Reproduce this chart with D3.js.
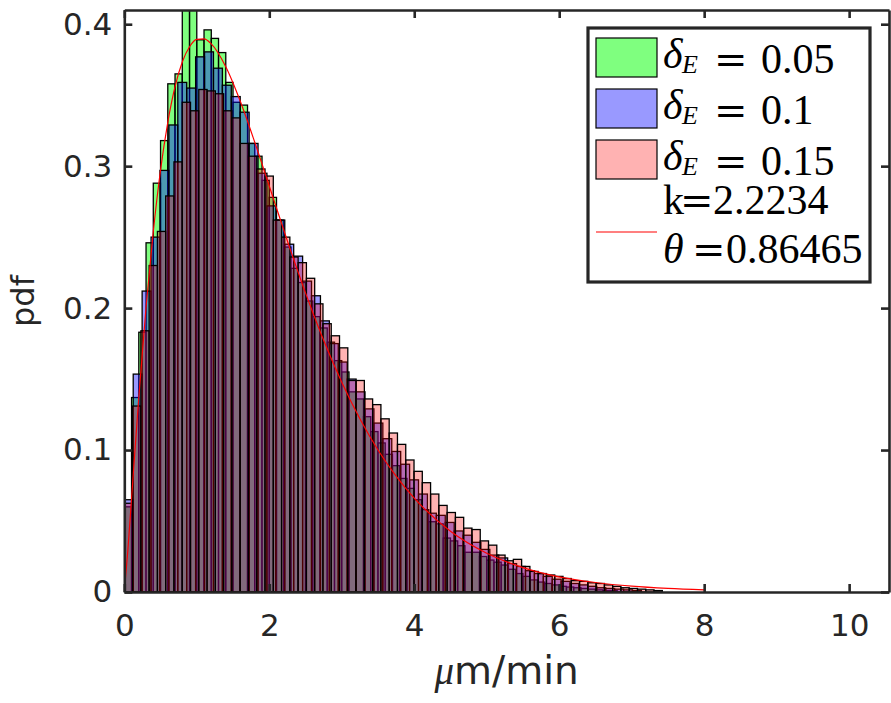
<!DOCTYPE html>
<html>
<head>
<meta charset="utf-8">
<script src="https://cdn.jsdelivr.net/npm/d3@7"></script>
<style>
  body { margin: 0; background: #fff; }
  svg { display: block; }
</style>
</head>
<body>
<div id="chart"></div>
<script>

// --------------------------------------------------------
// Histogram data: pdf value per bin, every series starts its bins at 0
var green_bin_width = 0.1;
var green_pdf = [
    0.060, 0.137, 0.183, 0.246, 0.288, 0.318, 0.358, 0.365, 0.440, 0.420,
    0.389, 0.396, 0.390, 0.380, 0.359, 0.345, 0.343, 0.316, 0.307, 0.290,
    0.278, 0.262, 0.243, 0.228, 0.218, 0.205, 0.194, 0.186, 0.176, 0.163,
    0.155, 0.141, 0.136, 0.1235, 0.113, 0.105, 0.097, 0.089, 0.080, 0.073,
    0.065, 0.058, 0.0495, 0.048, 0.038, 0.036, 0.0326, 0.028, 0.028, 0.025,
    0.0225, 0.021, 0.019, 0.016, 0.013, 0.011, 0.0085, 0.007, 0.006, 0.005,
    0.004, 0.0035, 0.003, 0.0025, 0.002, 0.0015, 0.001, 0.001
];

var blue_bin_width = 0.123;
var blue_pdf = [
    0.065, 0.1535, 0.212, 0.250, 0.297, 0.329, 0.359, 0.355, 0.377, 0.3805,
    0.369, 0.357, 0.349, 0.338, 0.316, 0.295, 0.272, 0.262, 0.245, 0.2366,
    0.219, 0.2087, 0.191, 0.175, 0.162, 0.150, 0.141, 0.129, 0.119, 0.108,
    0.099, 0.090, 0.079, 0.069, 0.0555, 0.054, 0.049, 0.043, 0.040, 0.035,
    0.030, 0.026, 0.024, 0.020, 0.018, 0.015, 0.013, 0.011, 0.009, 0.0075,
    0.006, 0.005, 0.004, 0.003, 0.0025, 0.002, 0.0015, 0.001
];

var red_bin_width = 0.1142;
var red_pdf = [
    0.0625, 0.131, 0.184, 0.230, 0.254, 0.279, 0.303, 0.345, 0.339, 0.354,
    0.353, 0.351, 0.339, 0.334, 0.316, 0.307, 0.298, 0.293, 0.262, 0.250,
    0.236, 0.232, 0.221, 0.203, 0.189, 0.1805, 0.172, 0.149, 0.149, 0.136,
    0.132, 0.122, 0.112, 0.104, 0.093, 0.085, 0.077, 0.069, 0.061, 0.056,
    0.0526, 0.045, 0.044, 0.036, 0.033, 0.026, 0.022, 0.023, 0.018, 0.0145,
    0.013, 0.012, 0.011, 0.0095, 0.008, 0.0075, 0.0065, 0.006, 0.005, 0.004,
    0.003, 0.0025, 0.002, 0.0015, 0.001
];

// fitted gamma curve (red line)
var fit_x   = [0, 0.05, 0.1, 0.2, 0.3, 0.4, 0.5, 0.6, 0.7, 0.8, 0.9, 1.0, 1.1, 1.2,
               1.4, 1.6, 1.8, 2.0, 2.25, 2.5, 2.75, 3.0, 3.25, 3.5, 3.75, 4.0,
               4.5, 5.0, 5.5, 6.0, 6.5, 7.0, 7.5, 8.0];
var fit_pdf = [0, 0.0299, 0.0659, 0.1371, 0.2006, 0.2540, 0.2973, 0.3309, 0.3560,
               0.3734, 0.3841, 0.3893, 0.3896, 0.3861, 0.3700, 0.3457, 0.3168,
               0.2860, 0.2473, 0.2107, 0.1773, 0.1477, 0.1220, 0.1000, 0.0816,
               0.0661, 0.0428, 0.0273, 0.0172, 0.0107, 0.0067, 0.0041, 0.0025, 0.0015];

// axis ticks and legend text
var x_ticks = [0, 2, 4, 6, 8, 10];
var y_ticks = [0, 0.1, 0.2, 0.3, 0.4];
var legend_deltas = ['0.05', '0.1', '0.15'];
var fit_k = '2.2234';
var fit_theta = '0.86465';

// --------------------------------------------------------
// Chart size parameters
var chart_width  = 891;
var chart_height = 703;
var plot_left    = 124.3;
var plot_right   = 889;
var plot_top     = 10;
var plot_bottom  = 592;
var axis_color   = '#262626';
var legend_font  = 'Liberation Serif';
var legend_size  = 42;

var svg = d3.select('#chart')
    .append('svg')
    .attr('width', chart_width)
    .attr('height', chart_height);

// Scales
var x_scale = d3.scaleLinear()
    .domain([0, 10.55])
    .range([plot_left, plot_right]);

var y_scale = d3.scaleLinear()
    .domain([0, 0.41])
    .range([plot_bottom, plot_top]);

// clip bars to the axes box (green spike goes over the top)
svg.append('clipPath')
    .attr('id', 'plot-clip')
    .append('rect')
    .attr('x', plot_left)
    .attr('y', plot_top)
    .attr('width', plot_right - plot_left)
    .attr('height', plot_bottom - plot_top);

// --------------------------------------------------------
// Histograms, drawn green -> blue -> red like the original
var series = [
    { values: green_pdf, width: green_bin_width, color: '#00ff00', alpha: 0.5 },
    { values: blue_pdf,  width: blue_bin_width,  color: '#0000ff', alpha: 0.4 },
    { values: red_pdf,   width: red_bin_width,   color: '#ff0000', alpha: 0.3 }
];

var plot = svg.append('g')
    .attr('clip-path', 'url(#plot-clip)');

series.forEach(function(s) {
    plot.append('g')
        .selectAll('rect')
        .data(s.values)
        .enter()
        .append('rect')
        .attr('x', function(d, i) { return x_scale(i * s.width); })
        .attr('width', function(d, i) { return x_scale((i + 1) * s.width) - x_scale(i * s.width); })
        .attr('y', function(d) { return y_scale(d); })
        .attr('height', function(d) { return y_scale(0) - y_scale(d); })
        .attr('fill', s.color)
        .attr('fill-opacity', s.alpha)
        .attr('stroke', '#000')
        .attr('stroke-width', 1.3);
});

// fitted curve
var fit_line = d3.line()
    .x(function(d, i) { return x_scale(fit_x[i]); })
    .y(function(d) { return y_scale(d); })
    .curve(d3.curveMonotoneX);

plot.append('path')
    .attr('d', fit_line(fit_pdf))
    .attr('fill', 'none')
    .attr('stroke', '#ff0000')
    .attr('stroke-width', 1.2);

// --------------------------------------------------------
// Axes (ticks inside, box all round)
function style_axis(g) {
    g.selectAll('path, line')
        .attr('stroke', axis_color)
        .attr('stroke-width', 2.6);
    g.selectAll('text')
        .attr('fill', axis_color)
        .attr('font-family', 'DejaVu Sans')
        .attr('font-size', 31);
}

svg.append('g')
    .attr('transform', 'translate(0,' + plot_bottom + ')')
    .call(d3.axisBottom(x_scale).tickValues(x_ticks).tickSize(-8).tickSizeOuter(0).tickPadding(22))
    .call(style_axis);

svg.append('g')
    .attr('transform', 'translate(0,' + plot_top + ')')
    .call(d3.axisTop(x_scale).tickValues(x_ticks).tickSize(-8).tickSizeOuter(0).tickFormat(''))
    .call(style_axis);

svg.append('g')
    .attr('transform', 'translate(' + plot_left + ',0)')
    .call(d3.axisLeft(y_scale).tickValues(y_ticks).tickSize(-8).tickSizeOuter(0)
        .tickPadding(12).tickFormat(String))
    .call(style_axis);

svg.append('g')
    .attr('transform', 'translate(' + plot_right + ',0)')
    .call(d3.axisRight(y_scale).tickValues(y_ticks).tickSize(-8).tickSizeOuter(0).tickFormat(''))
    .call(style_axis);

// axis labels
svg.append('text')
    .attr('transform', 'translate(34,' + ((plot_top + plot_bottom) / 2) + ') rotate(-90)')
    .attr('text-anchor', 'middle')
    .attr('font-family', 'DejaVu Sans')
    .attr('font-size', 32)
    .attr('fill', axis_color)
    .text('pdf');

var x_label = svg.append('text')
    .attr('x', (plot_left + plot_right) / 2)
    .attr('y', 684)
    .attr('text-anchor', 'middle')
    .attr('font-family', 'DejaVu Sans')
    .attr('font-size', 39)
    .attr('fill', axis_color);
x_label.append('tspan')
    .attr('font-family', 'Liberation Serif')
    .attr('font-style', 'italic')
    .text('\u03bc');
x_label.append('tspan').text('m/min');

// --------------------------------------------------------
// Legend
var legend = svg.append('g');

legend.append('rect')
    .attr('x', 588)
    .attr('y', 28)
    .attr('width', 282)
    .attr('height', 254)
    .attr('fill', '#fff')
    .attr('stroke', axis_color)
    .attr('stroke-width', 3.2);

function legend_text(y) {
    return legend.append('text')
        .attr('y', y)
        .attr('font-family', legend_font)
        .attr('font-size', legend_size)
        .attr('fill', '#000');
}

// wider "=" as in the TeX legend
function add_equals(t, x) {
    t.append('tspan')
        .attr('x', x)
        .attr('font-family', 'DejaVu Serif')
        .attr('font-size', 40)
        .text('=');
}

var row_base = [68, 119, 170];
series.forEach(function(s, i) {
    legend.append('rect')
        .attr('x', 596)
        .attr('y', row_base[i] - 30)
        .attr('width', 61)
        .attr('height', 39)
        .attr('fill', s.color)
        .attr('fill-opacity', s.alpha)
        .attr('stroke', '#000')
        .attr('stroke-width', 1.2);

    var t = legend_text(row_base[i]);
    t.append('tspan').attr('x', 663).attr('font-style', 'italic').text('\u03b4');
    t.append('tspan').attr('x', 682).attr('dy', 5)
        .attr('font-style', 'italic').attr('font-size', 26).text('E');
    t.append('tspan').attr('dy', -5).text('');
    add_equals(t, 714);
    t.append('tspan').attr('x', 761).text(legend_deltas[i]);
});

legend.append('line')
    .attr('x1', 596)
    .attr('x2', 657)
    .attr('y1', 232)
    .attr('y2', 232)
    .attr('stroke', '#ff0000')
    .attr('stroke-width', 1.2);

var k_text = legend_text(214);
k_text.append('tspan').attr('x', 663).text('k');
add_equals(k_text, 680);
k_text.append('tspan').attr('x', 713).text(fit_k);

var theta_text = legend_text(263);
theta_text.append('tspan').attr('x', 663).attr('font-style', 'italic').text('\u03b8');
add_equals(theta_text, 692);
theta_text.append('tspan').attr('x', 726).text(fit_theta);

</script>
</body>
</html>
